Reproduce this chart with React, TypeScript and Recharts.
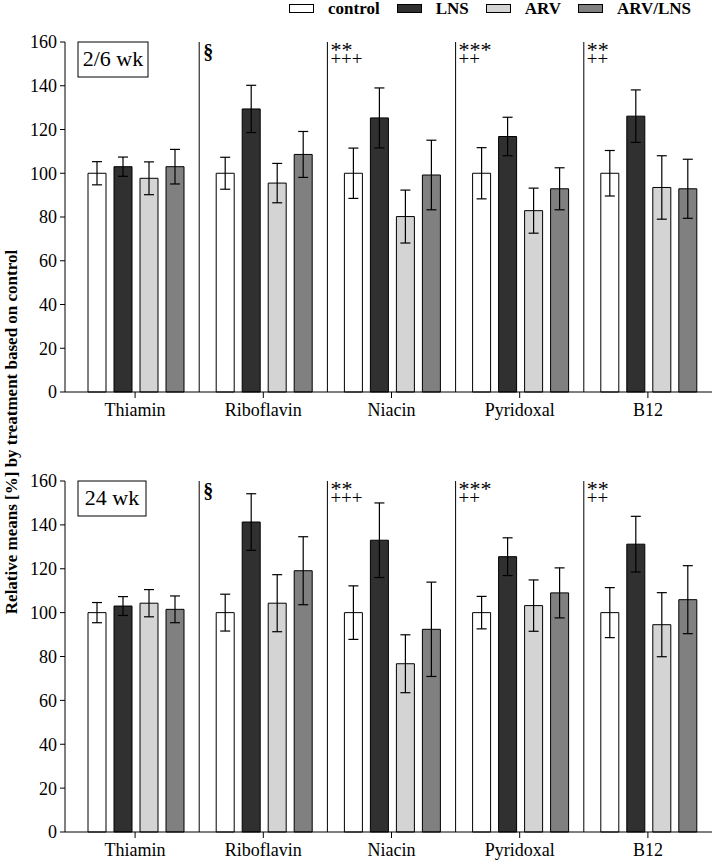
import type { JSX } from "react";

import { Bar, BarChart, ErrorBar, Legend, ReferenceLine, XAxis, YAxis } from "recharts";

const vitamins = ["Thiamin", "Riboflavin", "Niacin", "Pyridoxal", "B12"];
const groups = ["control", "LNS", "ARV", "ARV/LNS"];
const groupColors = ["#ffffff", "#303030", "#d4d4d4", "#808080"];
const yTicks = [0, 20, 40, 60, 80, 100, 120, 140, 160];

// 2/6 wk
const earlyControl = [100, 100, 100, 100, 100];
const earlyControlErr = [5.3, 7.3, 11.5, 11.7, 10.4];
const earlyLNS = [103, 129.4, 125.3, 116.8, 126.1];
const earlyLNSErr = [4.4, 10.8, 13.7, 8.8, 12];
const earlyARV = [97.7, 95.5, 80.2, 82.9, 93.5];
const earlyARVErr = [7.5, 9, 12.1, 10.3, 14.5];
const earlyARVLNS = [103, 108.6, 99.2, 92.9, 92.9];
const earlyARVLNSErr = [7.9, 10.5, 15.9, 9.6, 13.5];

// 24 wk
const lateControl = [100, 100, 100, 100, 100];
const lateControlErr = [4.6, 8.4, 12.2, 7.4, 11.4];
const lateLNS = [103, 141.3, 133, 125.5, 131.2];
const lateLNSErr = [4.3, 12.9, 17, 8.6, 12.7];
const lateARV = [104.3, 104.3, 76.7, 103.2, 94.5];
const lateARVErr = [6.2, 13, 13.2, 11.7, 14.6];
const lateARVLNS = [101.5, 119.1, 92.4, 109, 105.9];
const lateARVLNSErr = [6.1, 15.5, 21.5, 11.4, 15.5];

// significance marks above each vitamin group
const sigTop = ["", "§", "**", "***", "**"];
const sigBottom = ["", "", "+++", "++", "++"];

const FONT = '"Liberation Serif", "Times New Roman", serif';

type Row = { name: string; [key: string]: string | number };

function buildRows(values: number[][], errors: number[][]): Row[] {
	return vitamins.map((name, i) => {
		const row: Row = { name };
		values.forEach((v, g) => {
			row[`g${g}`] = v[i];
			row[`g${g}Err`] = errors[g][i];
		});
		return row;
	});
}

const earlyRows = buildRows(
	[earlyControl, earlyLNS, earlyARV, earlyARVLNS],
	[earlyControlErr, earlyLNSErr, earlyARVErr, earlyARVLNSErr],
);
const lateRows = buildRows(
	[lateControl, lateLNS, lateARV, lateARVLNS],
	[lateControlErr, lateLNSErr, lateARVErr, lateARVLNSErr],
);

const sigLabel = (top: string, bottom: string) => (props: any) => {
	const { x, y } = props.viewBox;
	if (top === "§") {
		return (
			<text fill="#000" fontFamily={FONT} fontSize={20} fontWeight="bold" x={x + 4} y={y + 17}>
				{top}
			</text>
		);
	}
	return (
		<text fill="#000" fontFamily={FONT}>
			<tspan fontSize={22} x={x + 3} y={y + 15}>
				{top}
			</tspan>
			<tspan fontSize={19} x={x + 3} y={y + 23}>
				{bottom}
			</tspan>
		</text>
	);
};

const periodLabel = (text: string, boxWidth: number) => (props: any) => {
	const { x, y } = props.viewBox;
	return (
		<g fontFamily={FONT}>
			<rect fill="#fff" height={35} stroke="#000" width={boxWidth} x={x + 7} y={y} />
			<text fill="#000" fontSize={22} textAnchor="middle" x={x + 7 + boxWidth / 2} y={y + 24}>
				{text}
			</text>
		</g>
	);
};

function LegendContent(): JSX.Element {
	return (
		<div style={{ alignItems: "center", display: "flex", fontFamily: FONT, fontSize: 17, fontWeight: "bold", height: 17, lineHeight: "17px" }}>
			{groups.map((g, i) => (
				<div key={g} style={{ alignItems: "center", display: "flex", marginRight: 17 }}>
					<span style={{ background: groupColors[i], border: "1px solid #000", boxSizing: "border-box", display: "inline-block", height: 9, marginRight: 14, width: 25 }} />
					<span>{g}</span>
				</div>
			))}
		</div>
	);
}

type PanelProps = {
	rows: Row[];
	period: string;
	boxWidth: number;
	height: number;
	marginTop: number;
	showLegend: boolean;
};

function Panel({ rows, period, boxWidth, height, marginTop, showLegend }: PanelProps): JSX.Element {
	return (
		<BarChart barCategoryGap={17} barGap={8} data={rows} height={height} margin={{ bottom: 0, left: 0, right: 2, top: marginTop }} width={714}>
			<XAxis
				axisLine={{ stroke: "#000" }}
				dataKey="name"
				height={30}
				padding={{ left: 6, right: 0 }}
				tick={{ fill: "#000", fontFamily: FONT, fontSize: 18 }}
				tickLine={{ stroke: "#000" }}
				tickMargin={5}
				tickSize={6}
			/>
			<YAxis
				axisLine={{ stroke: "#000" }}
				domain={[0, 160]}
				interval={0}
				tick={{ fill: "#000", fontFamily: FONT, fontSize: 18 }}
				tickLine={{ stroke: "#000" }}
				tickMargin={3}
				tickSize={5}
				ticks={yTicks}
				width={65}
			/>
			{groups.map((g, i) => (
				<Bar dataKey={`g${i}`} fill={groupColors[i]} isAnimationActive={false} key={g} name={g} stroke="#000" strokeWidth={1}>
					<ErrorBar dataKey={`g${i}Err`} isAnimationActive={false} stroke="#000" strokeWidth={1.2} width={5} />
				</Bar>
			))}
			<ReferenceLine label={periodLabel(period, boxWidth)} position="start" strokeOpacity={0} x={vitamins[0]} />
			{vitamins.slice(1).map((v, i) => (
				<ReferenceLine key={v} label={sigLabel(sigTop[i + 1], sigBottom[i + 1])} position="start" stroke="#000" strokeWidth={1} x={v} />
			))}
			{showLegend && (
				<Legend align="center" content={<LegendContent />} verticalAlign="middle" wrapperStyle={{ height: 17, left: 289, top: 0, width: 425 }} />
			)}
		</BarChart>
	);
}

export default function App(): JSX.Element {
	return (
		<div style={{ background: "#fff", height: 862, left: 0, overflow: "hidden", position: "absolute", top: 0, width: 714 }}>
			<div style={{ left: 0, position: "absolute", top: 0 }}>
				<Panel boxWidth={70} height={422} marginTop={42} period="2/6 wk" rows={earlyRows} showLegend />
			</div>
			<div style={{ left: 0, position: "absolute", top: 438 }}>
				<Panel boxWidth={68} height={424} marginTop={43} period="24 wk" rows={lateRows} showLegend={false} />
			</div>
			<svg height={862} style={{ left: 0, position: "absolute", top: 0 }} width={30}>
				<text fill="#000" fontFamily={FONT} fontSize={17} fontWeight="bold" textAnchor="middle" transform="translate(17 432) rotate(-90)">
					Relative means [%] by treatment based on control
				</text>
			</svg>
		</div>
	);
}
